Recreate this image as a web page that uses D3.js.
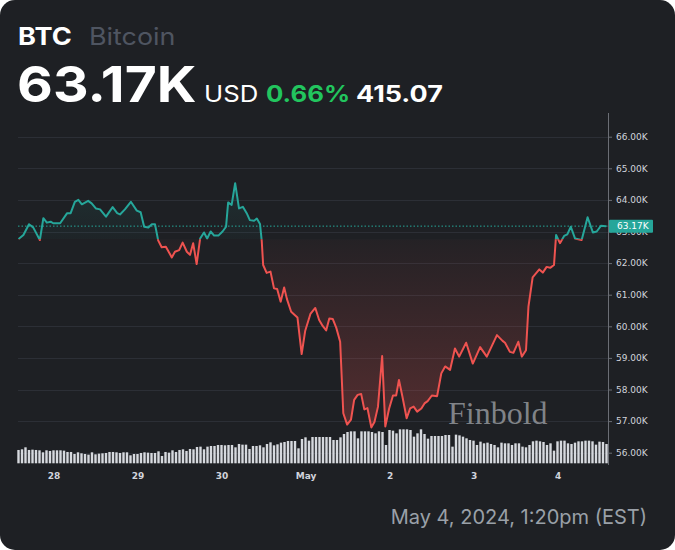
<!DOCTYPE html>
<html>
<head>
<meta charset="utf-8">
<script src="https://cdn.jsdelivr.net/npm/d3@7"></script>
<style>
  html, body { margin: 0; padding: 0; background: #ffffff; }
  svg { display: block; }
</style>
</head>
<body>
<svg id="chart" width="675" height="550"></svg>
<script>
// ---------- data ----------
const symbol = "BTC";
const assetName = "Bitcoin";
const lastPrice = 63170;
const openPrice = 62755;
const currency = "USD";
const changePct = "0.66%";
const changeAbs = "415.07";
const stamp = "May 4, 2024, 1:20pm (EST)";
const watermark = "Finbold";

// hours after 2024-04-28 00:00
const hours = [-10, -8.6, -7, -5.8, -3.9, -2.9, -1.9, -0.8, -0.1, 1.9, 3.9, 4.9, 6.1, 7.1, 8.1, 9.9, 10.9, 12.1, 13.3, 15,
  16.9, 18.2, 19, 20.4, 22.1, 23.8, 24.9, 25.9, 27.1, 28.1, 29, 29.9, 30.9, 32.1, 33.8, 34.7, 35.9, 36.9, 38.1, 39,
  39.9, 40.9, 41.9, 43, 43.9, 44.9, 45.9, 47.1, 48.3, 49.3, 49.9, 50.9, 51.9, 53, 54.1, 55.2, 56.1, 57.3, 58.1, 59,
  59.5, 59.9, 60.9, 62, 63, 63.9, 64.9, 65.9, 66.7, 67.9, 69.7, 70.9, 71.9, 73.4, 74.8, 75.9, 76.9, 77.9, 78.8, 79.8,
  80.8, 81.9, 82.8, 83.9, 85, 85.9, 86.9, 87.9, 88.8, 89.7, 90.8, 91.7, 92.7, 93.9, 94.8, 95.9, 97, 97.9, 98.7, 99.7,
  100.9, 101.9, 102.9, 103.9, 105.1, 106, 106.9, 108.1, 109.6, 110.8, 111.9, 113.3, 114.7, 115.9, 117.9, 119.8, 121.9, 123.8, 126.7, 128.3,
  129, 130.4, 131.4, 132.8, 133.8, 135, 135.7, 136.9, 138.8, 139.8, 140.9, 141.9, 143, 143.6, 144.7, 145.9, 146.8, 147.8, 149, 150.9,
  152.6, 154.1, 155.2, 156.4, 157.9];
const prices = [62760, 62890, 63230, 63130, 62730, 63420, 63280, 63310, 63260, 63260, 63580, 63580, 63940, 64000, 63860, 63970, 63890, 63730, 63700, 63470,
  63770, 63580, 63540, 63700, 63940, 63660, 63610, 63150, 63130, 63230, 63230, 62720, 62500, 62520, 62180, 62360, 62410, 62650, 62360, 62260,
  62630, 61970, 62780, 62970, 62780, 63000, 62870, 62870, 63000, 63150, 63920, 63840, 64530, 63730, 63780, 63580, 63360, 63340, 63410, 63240,
  62700, 61940, 61690, 61730, 61200, 61180, 60780, 61230, 60860, 60460, 60280, 59120, 59850, 60390, 60580, 60200, 60010, 59870, 60250, 60230,
  59950, 59510, 57250, 56890, 57050, 57670, 57830, 57860, 57370, 57410, 56800, 56970, 57450, 59060, 56830, 57400, 57810, 57810, 58300, 57770,
  57090, 57400, 57460, 57300, 57400, 57560, 57630, 57810, 57790, 58510, 58730, 58620, 59300, 59040, 59480, 58820, 59340, 59040, 59720, 59540,
  59480, 59190, 59160, 59510, 59040, 59240, 60620, 61550, 61800, 61700, 61880, 61850, 61940, 62890, 62630, 62860, 62910, 63150, 62780, 62730,
  63450, 62970, 63000, 63180, 63170];

// hourly volume, first bar at 2024-04-27 14:00 (relative units)
const volumeStartHour = -10;
const volumes = [40, 42, 48, 40, 41, 40, 39, 33, 39, 37, 39, 39, 39, 38, 34, 34, 28, 33, 30, 28,
  26, 33, 27, 29, 30, 31, 34, 34, 33, 31, 33, 33, 24, 28, 28, 31, 33, 32, 31, 31,
  36, 22, 34, 32, 39, 34, 40, 42, 37, 43, 42, 49, 50, 42, 50, 52, 52, 55, 55, 54,
  55, 55, 48, 58, 56, 56, 43, 52, 52, 54, 48, 58, 63, 54, 57, 62, 64, 67, 67, 67,
  45, 73, 78, 68, 79, 79, 79, 79, 79, 79, 70, 70, 78,
  88, 94, 96, 96, 75, 96, 96, 96, 94, 90, 96, 94, 55, 100, 98, 90, 102, 102, 102, 100,
  80, 90, 102, 88, 74, 82, 82, 82, 82, 85, 85, 50, 86, 84, 80, 75, 70, 68, 55, 65,
  60, 62, 58, 55, 48, 62, 60, 60, 55, 60, 60, 50, 48, 55, 66, 68, 66, 64, 55, 60,
  38, 66, 68, 68, 60, 58, 62, 66, 66, 68, 68, 66, 56, 65, 64, 58];

const yTicks = [56000, 57000, 58000, 59000, 60000, 61000, 62000, 63000, 64000, 65000, 66000];
const dayTicks = ["2024-04-28", "2024-04-29", "2024-04-30", "2024-05-01", "2024-05-02", "2024-05-03", "2024-05-04"];

// ---------- setup ----------
const W = 675, H = 550;
const svg = d3.select("#chart");
const base = new Date(2024, 3, 28, 0, 0, 0);
const hrs = h => new Date(base.getTime() + h * 3600e3);
const parseDay = s => { const [y, m, d] = s.split("-").map(Number); return new Date(y, m - 1, d); };

const colUp = "#26a69a", colDown = "#ef5350";
const bg = "#1e2024";

svg.append("rect").attr("x", 0).attr("y", 0).attr("width", W).attr("height", H)
  .attr("rx", 15).attr("fill", bg);

const plot = { left: 18, right: 608, top: 113, bottom: 465 };

const x = d3.scaleTime()
  .domain([parseDay(dayTicks[0]), parseDay(dayTicks[dayTicks.length - 1])])
  .range([53.5, 557.5]);
const y = d3.scaleLinear().domain([56000, 66000]).range([452.7, 136.7]);
const vy = d3.scaleLinear().domain([0, 100]).range([0, 33.3]);

const defs = svg.append("defs");
const yb = y(openPrice);
defs.append("clipPath").attr("id", "clipUp").append("rect")
  .attr("x", plot.left).attr("y", plot.top).attr("width", plot.right - plot.left).attr("height", yb - plot.top);
defs.append("clipPath").attr("id", "clipDown").append("rect")
  .attr("x", plot.left).attr("y", yb).attr("width", plot.right - plot.left).attr("height", plot.bottom - yb);

const gUp = defs.append("linearGradient").attr("id", "gradUp").attr("gradientUnits", "userSpaceOnUse")
  .attr("x1", 0).attr("x2", 0).attr("y1", y(64600)).attr("y2", yb);
gUp.append("stop").attr("offset", 0).attr("stop-color", colUp).attr("stop-opacity", 0.12);
gUp.append("stop").attr("offset", 1).attr("stop-color", colUp).attr("stop-opacity", 0.03);
const gDn = defs.append("linearGradient").attr("id", "gradDown").attr("gradientUnits", "userSpaceOnUse")
  .attr("x1", 0).attr("x2", 0).attr("y1", yb).attr("y2", y(56800));
gDn.append("stop").attr("offset", 0).attr("stop-color", colDown).attr("stop-opacity", 0.03);
gDn.append("stop").attr("offset", 1).attr("stop-color", colDown).attr("stop-opacity", 0.26);

// grid
svg.append("g").selectAll("line").data(yTicks).join("line")
  .attr("x1", plot.left).attr("x2", plot.right)
  .attr("y1", d => Math.round(y(d)) + 0.5).attr("y2", d => Math.round(y(d)) + 0.5)
  .attr("stroke", "#2c2f36").attr("stroke-width", 1);

// watermark
svg.append("text").text(watermark)
  .attr("x", 448).attr("y", 424)
  .attr("font-family", "'Liberation Serif', 'DejaVu Serif', serif")
  .attr("font-size", 32).attr("fill", "#93969b").attr("fill-opacity", 0.85);

// volume
svg.append("g").selectAll("rect").data(volumes).join("rect")
  .attr("x", (d, i) => x(hrs(volumeStartHour + i)) - 1.2)
  .attr("width", 2.4)
  .attr("y", d => 463.3 - vy(d))
  .attr("height", d => vy(d))
  .attr("fill", "#d6d9de");

// series
const pts = hours.map((h, i) => ({ t: hrs(h), v: prices[i] }));
const area = d3.area().x(d => x(d.t)).y0(yb).y1(d => y(d.v));
const line = d3.line().x(d => x(d.t)).y(d => y(d.v));

svg.append("path").datum(pts).attr("d", area).attr("fill", "url(#gradUp)").attr("clip-path", "url(#clipUp)");
svg.append("path").datum(pts).attr("d", area).attr("fill", "url(#gradDown)").attr("clip-path", "url(#clipDown)");

// last price dotted line
svg.append("line")
  .attr("x1", plot.left).attr("x2", plot.right)
  .attr("y1", y(lastPrice)).attr("y2", y(lastPrice))
  .attr("stroke", colUp).attr("stroke-width", 1).attr("stroke-dasharray", "1.5,2");

svg.append("path").datum(pts).attr("d", line).attr("fill", "none")
  .attr("stroke", colUp).attr("stroke-width", 2).attr("stroke-linejoin", "round").attr("clip-path", "url(#clipUp)");
svg.append("path").datum(pts).attr("d", line).attr("fill", "none")
  .attr("stroke", colDown).attr("stroke-width", 2).attr("stroke-linejoin", "round").attr("clip-path", "url(#clipDown)");

// y axis (the 63.00K label sits under the last-price badge, as in the reference)
const yAxis = d3.axisRight(y).tickValues(yTicks).tickSize(4).tickPadding(4)
  .tickFormat(d => (d / 1000).toFixed(2) + "K");
const gy = svg.append("g").attr("transform", `translate(${plot.right},0)`).call(yAxis);
gy.select(".domain").remove();
gy.selectAll(".tick line").attr("stroke", "#6b6e75");
gy.selectAll(".tick text").attr("fill", "#d1d4dc")
  .attr("font-family", "'DejaVu Sans', Verdana, sans-serif").attr("font-size", 9);
svg.append("line").attr("x1", plot.right + 0.5).attr("x2", plot.right + 0.5)
  .attr("y1", plot.top).attr("y2", plot.bottom).attr("stroke", "#6b6e75");

// last price label
const lg = svg.append("g").attr("transform", `translate(${plot.right},${y(lastPrice)})`);
lg.append("rect").attr("x", 1).attr("y", -6.5).attr("width", 44).attr("height", 13).attr("rx", 1).attr("fill", colUp);
lg.append("text").text((lastPrice / 1000).toFixed(2) + "K").attr("x", 9).attr("dy", "0.35em")
  .attr("fill", "#ffffff").attr("font-family", "'DejaVu Sans', Verdana, sans-serif").attr("font-size", 9);

// x axis
const fmtDay = d => d.getDate() === 1 ? d3.timeFormat("%b")(d) : d3.timeFormat("%-d")(d);
const xAxis = d3.axisBottom(x).tickValues(dayTicks.map(parseDay)).tickSize(0).tickPadding(8).tickFormat(fmtDay);
const gx = svg.append("g").attr("transform", `translate(0,${plot.bottom})`).call(xAxis);
gx.select(".domain").remove();
gx.selectAll(".tick text").attr("fill", "#d1d4dc")
  .attr("font-family", "'DejaVu Sans', Verdana, sans-serif").attr("font-size", 9).attr("font-weight", "bold");

// header
const font = "Inter, 'Noto Sans', sans-serif";
function head(txt, px, py, size, weight, color, sx) {
  svg.append("text").text(txt)
    .attr("transform", `translate(${px},${py}) scale(${sx},1)`)
    .attr("font-family", font).attr("font-weight", weight).attr("font-size", size).attr("fill", color);
}
head(symbol, 18, 45, 24, 700, "#ffffff", 1.13);
head(assetName, 89, 45, 24, 400, "#4f5561", 1.12);
head((lastPrice / 1000).toFixed(2) + "K", 17, 102, 50, 700, "#ffffff", 1.105);
head(currency, 204, 102, 23, 400, "#ffffff", 1.12);
head(changePct, 266, 102, 23, 700, "#22c55e", 1.12);
head(changeAbs, 356, 102, 23, 700, "#ffffff", 1.17);

// footer
svg.append("text").text(stamp).attr("x", 647).attr("y", 524).attr("text-anchor", "end")
  .attr("font-family", font).attr("font-weight", 400).attr("font-size", 20).attr("fill", "#9aa0a8");
</script>
</body>
</html>
